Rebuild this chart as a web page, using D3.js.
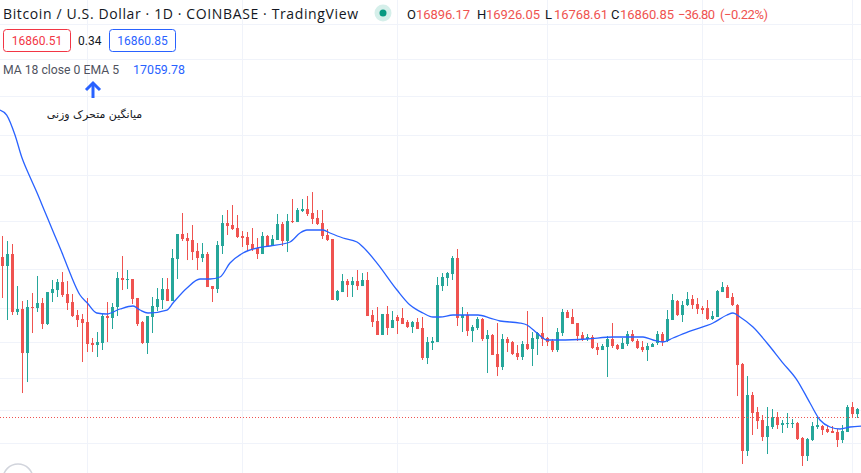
<!DOCTYPE html>
<html>
<head>
<meta charset="utf-8">
<script src="https://d3js.org/d3.v7.min.js"></script>
<style>
  body { margin: 0; background: #ffffff; }
  svg { display: block; }
</style>
</head>
<body>
<svg id="chart"></svg>
<script>
  // daily candles, one per day (index 0 = first visible bar)
  var openVals = [22452,22094,22573,20347,20457,18907,20530,20493,20677,19915,
    21051,21164,21469,21013,20714,20238,20094,19986,19249,19180,
    19249,20202,20130,20530,21624,21547,21585,20864,19986,19249,
    20166,20530,20789,21202,20751,22372,23396,23229,23146,22694,
    22412,22573,21316,21202,22899,23860,23776,23648,23313,23271,
    22981,22817,22573,23313,22899,23146,23818,23104,23946,23903,
    24378,24466,24292,24076,23860,23354,23188,20789,21088,21507,
    21354,21507,21316,21547,20238,20022,19527,20275,19773,20166,
    20130,19986,19808,19986,19773,18739,19249,19283,21316,21624,
    21779,22412,20130,20238,19666,19773,20094,19387,19527,18874,
    18439,19387,19283,18907,18773,19215,19044,19387,19596,19422,
    19318,19009,19596,20347,20166,19950,19527,19387,19457,19112,
    19009,19112,19387,19180,19044,19215,19561,19318,19112,19009,
    19112,19249,19561,19318,20058,20751,20238,20603,20826,20640,
    20493,20493,20094,20166,21088,21278,20901,20603,18538,15866,
    17538,17012,16770,16268,16562,16861,16621,16651,16651,16680,
    16239,15724,16181,16562,16591,16503,16444,16415,16181,16415,
    17165,16951];
  var highVals = [23313,23104,22981,21316,20751,20789,21051,21702,20864,21088,
    21547,21585,21857,21507,21013,20420,20275,20864,19422,19631,
    20275,20714,20677,21857,22492,21936,21585,20864,20022,20202,
    20901,21240,21624,21624,22776,23396,24292,23438,23776,23022,
    23022,22653,21316,23104,24205,24422,24642,24205,23521,23480,
    23648,23229,23480,23354,23354,24249,23903,24249,24909,24510,
    24909,25043,25221,24422,24422,23606,23188,21164,21779,21585,
    21663,21936,21818,21857,20420,20530,20275,20567,20383,20238,
    20493,20058,20022,20130,20166,19457,19457,21663,21818,21857,
    22492,22776,20530,20347,19879,20166,20130,19702,19561,19950,
    19561,19457,19318,19180,19318,20383,19631,19631,20166,19457,
    19387,19773,20457,20420,20457,19950,19631,19561,19527,19249,
    19215,19492,19950,19215,19422,19666,19702,19387,19318,19249,
    19249,19666,19631,20420,21013,20789,20751,21088,20976,20864,
    20567,20789,20383,21164,21469,21354,21051,20640,18572,18144,
    17633,17165,16921,17165,17104,17012,16770,16982,16800,16710,
    16268,16239,16710,16891,16621,16621,16591,16503,16621,17226,
    17319,17134];
  var lowVals = [20864,20058,20238,20238,17600,17950,19596,20347,19737,19879,
    20714,20901,20901,20420,20166,19808,18605,18941,18941,18773,
    19009,19283,19737,20202,21164,21202,20640,19844,19215,18874,
    19596,20383,20457,20751,20751,21585,23104,22331,22331,21936,
    22251,21278,20714,21051,22573,23354,23564,23229,22858,22694,
    22694,22372,22573,22899,22899,23146,22899,22653,23860,23903,
    24335,24162,23818,23776,23188,23104,20789,20751,21088,20901,
    20901,21164,21316,20202,19808,19527,19527,19527,19773,19561,
    19915,19773,19596,19737,18672,18538,19009,19283,21126,21316,
    21547,19844,19631,19492,19283,19702,19318,18242,18840,18144,
    18340,18941,18840,18672,18672,19009,18472,18840,19146,19146,
    18941,18941,19492,20130,19915,19318,19318,19318,19044,18840,
    19009,18112,19078,19009,19044,19146,19283,19044,18941,18639,
    19112,19180,19146,19283,20058,20202,19986,20567,20457,20275,
    20275,20058,20058,20166,21088,20864,20567,17506,15500,15724,
    16326,16503,16152,15780,16503,16503,16385,16532,16532,16181,
    15445,15584,16152,16503,16326,16385,16385,15979,16094,16415,
    16831,16831];
  var closeVals = [22094,22573,20347,20457,18907,20530,20493,20677,19915,21088,
    21202,21469,20976,20677,20202,20058,19950,19215,19180,19283,
    20202,20130,20530,21624,21547,21585,20826,19915,19249,20202,
    20567,20826,21202,20751,22412,23396,23188,23104,22653,22412,
    22573,21278,21202,22940,23860,23733,23606,23271,23229,22940,
    22776,22573,23313,22899,23188,23818,23104,23946,23903,24422,
    24466,24249,24033,23818,23313,23146,20789,21126,21507,21354,
    21507,21316,21547,20202,19986,19527,20275,19773,20058,20022,
    19915,19808,19986,19737,18739,19283,19318,21354,21663,21818,
    22412,20130,20238,19666,19808,20094,19387,19527,18840,18439,
    19387,19249,18874,18773,19215,19044,19422,19596,19387,19283,
    19009,19631,20347,20130,19915,19492,19387,19457,19078,19009,
    19146,19387,19146,19044,19249,19561,19318,19078,19009,19146,
    19215,19561,19283,20094,20789,20238,20603,20826,20603,20457,
    20420,20094,20202,21126,21278,20864,20603,18505,15866,17538,
    16982,16740,16268,16591,16861,16621,16680,16680,16680,16210,
    15724,16210,16591,16621,16473,16415,16385,16181,16444,17165,
    16951,17104];

  // MA 18 close 0 EMA 5 at these bar positions
  var emaIdx = [-0.5,0.84,2.5,3.84,5.5,6.84,8.5,10.16,11.84,13.5,
    15.5,16.96,18.84,20.84,23.5,26.1,27.5,29.1,32.9,34.1,
    36.9,39.5,41.5,43.5,45.5,48.1,50.9,53.5,57.5,59.5,
    60.9,64.1,65.5,68.1,70.9,72.1,74.9,78.9,81.5,84.1,
    86.1,87.5,90.1,95.1,97.5,99.5,103.5,104.9,106.9,108.9,
    111.5,116.9,122.1,128.1,130.1,132.1,134.1,137.5,142.1,144.9,
    146.1,147.5,150.1,152.9,156.1,158.9,161.5,163.5,165.5,167.5,
    169.5,171.7];
  var emaVals = [29209,28949,27932,26853,25909,25222,24335,23480,22653,21818,
    20976,20677,20311,20275,20457,20567,20420,20311,20420,20677,
    21240,21585,21585,21663,22211,22613,22817,22899,23063,23438,
    23564,23564,23438,23229,23063,22858,22211,21164,20603,20311,
    20166,20166,20238,20238,20130,20022,19950,19879,19596,19353,
    19353,19387,19457,19457,19353,19283,19422,19666,19950,20238,
    20311,20166,19808,19249,18571,18015,17289,16770,16562,16503,
    16562,16591];

  var gridPrices = [34072,31985,29968,27947,25988,23959,21975,20482,19273,18080,17088,16085];
  var monthStartIdx = [17,48,79,109,140,170];
  var lastPrice = 16860.85;

  var width = 861, height = 473;
  var upColor = "#26a69a", downColor = "#ef5350", blue = "#2962ff", textDark = "#131722";

  var svg = d3.select("#chart")
    .attr("width", width)
    .attr("height", height)
    .style("font-family", "Roboto, 'Noto Sans', sans-serif");

  var x = d3.scaleLinear().domain([0, 171]).range([2.5, 857.5]);
  var y = d3.scaleLog().domain([15253, 35567]).range([height, 0]);

  // grid
  svg.append("g").selectAll("line").data(gridPrices).enter().append("line")
    .attr("x1", 0).attr("x2", width)
    .attr("y1", function(d){ return Math.round(y(d)) + 0.5; })
    .attr("y2", function(d){ return Math.round(y(d)) + 0.5; })
    .attr("stroke", "#f0f3fa");
  svg.append("g").selectAll("line").data(monthStartIdx).enter().append("line")
    .attr("x1", function(d){ return x(d); }).attr("x2", function(d){ return x(d); })
    .attr("y1", 0).attr("y2", height)
    .attr("stroke", "#f0f3fa");

  // candles
  var bars = d3.range(openVals.length).map(function(i){
    return {i: i, o: openVals[i], h: highVals[i], l: lowVals[i], c: closeVals[i]};
  });
  var candle = svg.append("g").selectAll("g").data(bars).enter().append("g")
    .attr("fill", function(d){ return d.c >= d.o ? upColor : downColor; })
    .attr("stroke", function(d){ return d.c >= d.o ? upColor : downColor; });
  candle.append("line")
    .attr("x1", function(d){ return x(d.i); }).attr("x2", function(d){ return x(d.i); })
    .attr("y1", function(d){ return y(d.h); }).attr("y2", function(d){ return y(d.l); });
  candle.append("rect")
    .attr("stroke", "none")
    .attr("x", function(d){ return x(d.i) - 1.5; })
    .attr("width", 3)
    .attr("y", function(d){ return y(Math.max(d.o, d.c)); })
    .attr("height", function(d){ return Math.max(1, y(Math.min(d.o, d.c)) - y(Math.max(d.o, d.c))); });

  // EMA line
  var emaLine = d3.line()
    .x(function(d){ return x(d[0]); })
    .y(function(d){ return y(d[1]); })
    .curve(d3.curveMonotoneX);
  svg.append("path")
    .datum(d3.zip(emaIdx, emaVals))
    .attr("d", emaLine)
    .attr("fill", "none")
    .attr("stroke", blue)
    .attr("stroke-width", 1.3);

  // last price line
  svg.append("line")
    .attr("x1", 0).attr("x2", width)
    .attr("y1", Math.round(y(lastPrice)) + 0.5).attr("y2", Math.round(y(lastPrice)) + 0.5)
    .attr("stroke", downColor)
    .attr("stroke-dasharray", "1,2");

  // logo circle, bottom left
  svg.append("circle").attr("cx", 18).attr("cy", 479).attr("r", 15)
    .attr("fill", "none").attr("stroke", "#d1d4dc").attr("stroke-width", 1.5);

  // legend row 1
  svg.append("text").attr("x", 3).attr("y", 19)
    .attr("textLength", 355).attr("lengthAdjust", "spacing")
    .style("font-family", "'Open Sans', Roboto, sans-serif")
    .style("font-size", "14px").style("fill", textDark)
    .text("Bitcoin / U.S. Dollar \u00b7 1D \u00b7 COINBASE \u00b7 TradingView");
  svg.append("circle").attr("cx", 383).attr("cy", 13).attr("r", 8.5).attr("fill", "#d5efea");
  svg.append("circle").attr("cx", 383).attr("cy", 13).attr("r", 3.5).attr("fill", "#089981");

  var ohlc = [["O", "16896.17", 407], ["H", "16926.05", 477], ["L", "16768.61", 545], ["C", "16860.85", 611]];
  ohlc.forEach(function(d){
    svg.append("text").attr("x", d[2]).attr("y", 19).style("font-size", "13px")
      .style("fill", textDark).text(d[0]);
    svg.append("text").attr("x", d[2] + 9).attr("y", 19).style("font-size", "13px")
      .attr("textLength", 54).attr("lengthAdjust", "spacing")
      .style("fill", downColor).text(d[1]);
  });
  svg.append("text").attr("x", 678).attr("y", 19).style("font-size", "13px").style("fill", downColor)
    .attr("textLength", 37).attr("lengthAdjust", "spacing")
    .text("\u221236.80");
  svg.append("text").attr("x", 720).attr("y", 19).style("font-size", "13px").style("fill", downColor)
    .attr("textLength", 48).attr("lengthAdjust", "spacing")
    .text("(\u22120.22%)");

  // legend row 2: bid / spread / ask
  svg.append("rect").attr("x", 3.5).attr("y", 29.5).attr("width", 67).attr("height", 22).attr("rx", 3)
    .attr("fill", "#ffffff").attr("stroke", "#f23645");
  svg.append("text").attr("x", 37).attr("y", 45).attr("text-anchor", "middle")
    .style("font-size", "12px").style("fill", "#f23645").text("16860.51");
  svg.append("text").attr("x", 78).attr("y", 45)
    .style("font-size", "12px").style("fill", textDark).text("0.34");
  svg.append("rect").attr("x", 109.5).attr("y", 29.5).attr("width", 66).attr("height", 22).attr("rx", 3)
    .attr("fill", "#ffffff").attr("stroke", blue);
  svg.append("text").attr("x", 142.5).attr("y", 45).attr("text-anchor", "middle")
    .style("font-size", "12px").style("fill", blue).text("16860.85");

  // legend row 3: indicator
  svg.append("text").attr("x", 3).attr("y", 74)
    .attr("textLength", 116).attr("lengthAdjust", "spacingAndGlyphs")
    .style("font-size", "12.5px").style("fill", "#50535e").text("MA 18 close 0 EMA 5");
  svg.append("text").attr("x", 133).attr("y", 74)
    .attr("textLength", 52).attr("lengthAdjust", "spacingAndGlyphs")
    .style("font-size", "12.5px").style("fill", blue).text("17059.78");

  // annotation arrow + note
  svg.append("line").attr("x1", 93).attr("x2", 93).attr("y1", 84).attr("y2", 98)
    .attr("stroke", blue).attr("stroke-width", 3);
  svg.append("path").attr("d", "M86,90 L93,83 L100,90")
    .attr("fill", "none").attr("stroke", blue).attr("stroke-width", 3).attr("stroke-linejoin", "miter");
  svg.append("text").attr("x", 94.5).attr("y", 118).attr("text-anchor", "middle")
    .style("font-family", "'DejaVu Sans', sans-serif").style("font-size", "11px").style("fill", textDark)
    .text("میانگین متحرک وزنی");
</script>
</body>
</html>
